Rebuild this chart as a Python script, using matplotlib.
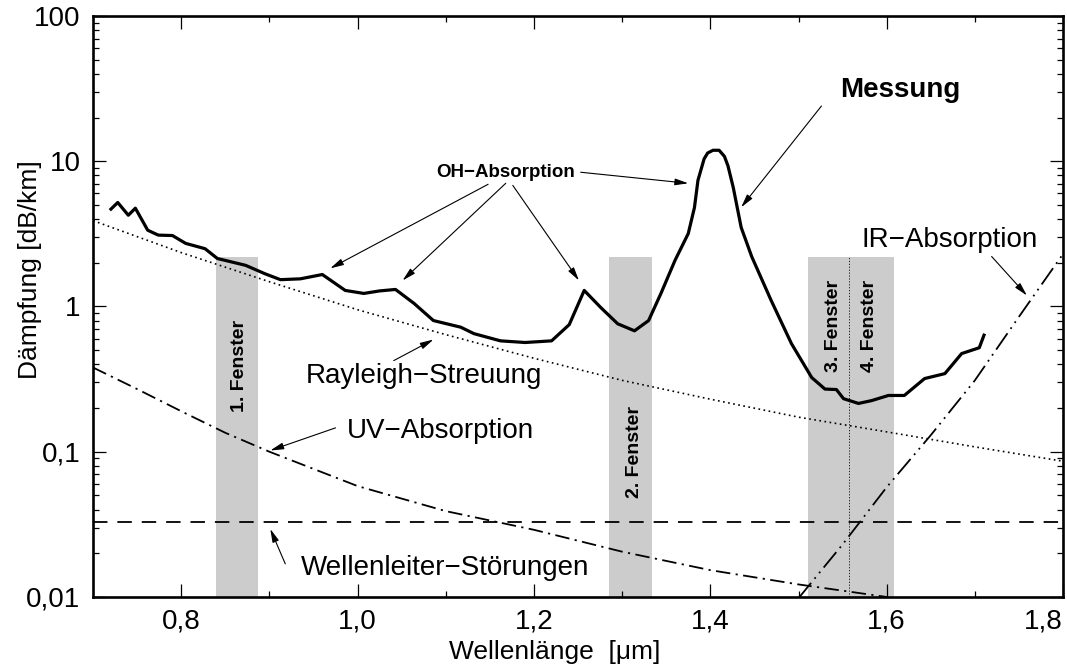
import matplotlib
matplotlib.use("Agg")
import matplotlib.pyplot as plt
from matplotlib.ticker import FixedLocator, NullFormatter, LogLocator

plt.rcParams['font.family'] = ['Liberation Sans', 'DejaVu Sans']

# Messung (gemessene Dämpfung)
mess_x = [0.719, 0.728, 0.740, 0.748, 0.762, 0.774, 0.790, 0.805, 0.827, 0.841,
          0.873, 0.895, 0.9125, 0.935, 0.960, 0.986, 1.007, 1.025, 1.043, 1.064,
          1.086, 1.117, 1.132, 1.162, 1.190, 1.220, 1.240, 1.257, 1.276, 1.295,
          1.314, 1.330, 1.344, 1.360, 1.375, 1.382, 1.386, 1.393, 1.397, 1.403,
          1.410, 1.416, 1.420, 1.426, 1.435, 1.447, 1.469, 1.492, 1.515, 1.530,
          1.543, 1.551, 1.568, 1.583, 1.602, 1.620, 1.643, 1.666, 1.685, 1.705,
          1.711]
mess_y = [4.6, 5.2, 4.25, 4.75, 3.35, 3.1, 3.08, 2.72, 2.5, 2.14,
          1.92, 1.68, 1.53, 1.55, 1.66, 1.29, 1.23, 1.28, 1.31, 1.05,
          0.80, 0.72, 0.65, 0.58, 0.565, 0.58, 0.75, 1.29, 0.98, 0.76,
          0.68, 0.80, 1.23, 2.08, 3.18, 4.8, 7.4, 10.4, 11.4, 11.9,
          11.9, 10.8, 9.3, 6.6, 3.5, 2.2, 1.10, 0.555, 0.324, 0.27,
          0.268, 0.232, 0.215, 0.225, 0.244, 0.244, 0.319, 0.345, 0.474, 0.52,
          0.65]

# Rayleigh-Streuung
ray_x = [0.7, 0.8, 0.9, 1.0, 1.1, 1.2, 1.3, 1.4, 1.5, 1.6, 1.7, 1.8]
ray_y = [3.9, 2.35, 1.48, 0.95, 0.64, 0.44, 0.31, 0.23, 0.173, 0.137, 0.108, 0.086]

# UV-Absorption
uv_x = [0.70, 0.75, 0.80, 0.85, 0.90, 1.0, 1.1, 1.2, 1.3, 1.4, 1.5, 1.6]
uv_y = [0.38, 0.27, 0.19, 0.135, 0.10, 0.058, 0.039, 0.029, 0.0205, 0.0153, 0.0122, 0.0100]

# IR-Absorption
ir_x = [1.50, 1.55, 1.60, 1.65, 1.70, 1.75, 1.80]
ir_y = [0.0098, 0.023, 0.057, 0.13, 0.31, 0.85, 2.3]

# Wellenleiter-Störungen
wl_level = 0.033

# Fenster
fenster_lo = [0.839, 1.285, 1.511]
fenster_hi = [0.8875, 1.334, 1.608]
fenster_top = 2.2
fenster_trenn = 1.557
fenster_labels = ["1. Fenster", "2. Fenster", "3. Fenster", "4. Fenster"]
fenster_lx = [0.8665, 1.3136, 1.540, 1.5807]
fenster_ly = [0.39, 0.10, 0.73, 0.73]

xticks = [0.8, 1.0, 1.2, 1.4, 1.6, 1.8]
xticklabels = ["0,8", "1,0", "1,2", "1,4", "1,6", "1,8"]
yticks = [0.01, 0.1, 1, 10, 100]
yticklabels = ["0,01", "0,1", "1", "10", "100"]

fig = plt.figure(figsize=(10.67, 6.67), dpi=100)
ax = fig.add_axes([0.0872, 0.105, 0.9091, 0.871])
ax.set_yscale('log')

# Fenster als graue Balken
for lo, hi in zip(fenster_lo, fenster_hi):
    ax.fill_between([lo, hi], [0.01, 0.01], [fenster_top, fenster_top],
                    color='#cccccc', lw=0, zorder=1)
ax.plot([fenster_trenn, fenster_trenn], [0.01, fenster_top], color='black',
        lw=0.6, ls=(0, (1.5, 2)), zorder=2)

for lab, lx, ly in zip(fenster_labels, fenster_lx, fenster_ly):
    ax.text(lx, ly, lab, rotation=90, ha='center', va='center',
            fontsize=14, fontweight='bold', zorder=5)

ax.plot(ray_x, ray_y, color='black', lw=1.2, ls=(0, (1, 2.1)), zorder=3)
ax.plot(uv_x, uv_y, color='black', lw=1.3, ls=(0, (8, 3, 1.2, 3)), zorder=3)
ax.axhline(wl_level, color='black', lw=1.3, ls=(0, (8, 5.5)), zorder=3)
ax.plot(ir_x, ir_y, color='black', lw=1.3, ls=(0, (11, 3, 1, 3, 1, 3)), zorder=3)
ax.plot(mess_x, mess_y, color='black', lw=2.3, solid_joinstyle='round',
        solid_capstyle='butt', zorder=4)

arrow = dict(arrowstyle='-|>,head_length=0.8,head_width=0.2', color='black',
             lw=0.8, shrinkA=0, shrinkB=0)

ax.text(1.615, 30.9, "Messung", fontsize=20, fontweight='bold', ha='center', va='center')
ax.annotate("", xy=(1.435, 4.82), xytext=(1.526, 24.0), arrowprops=arrow)

ax.text(1.168, 8.4, "OH\u2212Absorption", fontsize=13.5, fontweight='bold',
        ha='center', va='center')
ax.annotate("", xy=(0.969, 1.83), xytext=(1.148, 6.94), arrowprops=arrow)
ax.annotate("", xy=(1.051, 1.51), xytext=(1.168, 7.05), arrowprops=arrow)
ax.annotate("", xy=(1.251, 1.51), xytext=(1.176, 6.82), arrowprops=arrow)
ax.annotate("", xy=(1.375, 7.05), xytext=(1.253, 8.4), arrowprops=arrow)

ax.text(1.075, 0.33, "Rayleigh\u2212Streuung", fontsize=20, ha='center', va='center')
ax.annotate("", xy=(1.086, 0.592), xytext=(1.041, 0.424), arrowprops=arrow)

ax.text(1.094, 0.139, "UV\u2212Absorption", fontsize=20, ha='center', va='center')
ax.annotate("", xy=(0.901, 0.102), xytext=(0.975, 0.146), arrowprops=arrow)

ax.text(1.099, 0.0158, "Wellenleiter\u2212Störungen", fontsize=20, ha='center', va='center')
ax.annotate("", xy=(0.901, 0.0294), xytext=(0.918, 0.0169), arrowprops=arrow)

ax.text(1.6715, 2.85, "IR\u2212Absorption", fontsize=20, ha='center', va='center')
ax.annotate("", xy=(1.759, 1.19), xytext=(1.719, 2.21), arrowprops=arrow)

ax.set_xlim(0.7, 1.8)
ax.set_ylim(0.01, 100)

ax.xaxis.set_major_locator(FixedLocator(xticks))
ax.set_xticklabels(xticklabels)
ax.xaxis.set_minor_locator(FixedLocator([0.9, 1.1, 1.3, 1.5, 1.7]))
ax.yaxis.set_major_locator(FixedLocator(yticks))
ax.set_yticklabels(yticklabels)
ax.yaxis.set_minor_locator(LogLocator(base=10, subs=range(2, 10)))
ax.yaxis.set_minor_formatter(NullFormatter())

ax.tick_params(which='both', direction='in', top=True, right=True, width=0.9,
               labelsize=20)
ax.tick_params(which='major', length=9.5)
ax.tick_params(which='minor', length=4.5)
ax.tick_params(axis='x', pad=8)
ax.tick_params(axis='y', pad=9)
ax.get_xticklabels()[-1].set_horizontalalignment('right')

for s in ax.spines.values():
    s.set_linewidth(1.9)

ax.set_xlabel("Wellenlänge  [\u03bcm]", fontsize=19)
ax.xaxis.set_label_coords(0.476, -0.074)
ax.set_ylabel("Dämpfung [dB/km]", fontsize=19)
ax.yaxis.set_label_coords(-0.053, 0.563)

fig.savefig("out.png", dpi=100)
